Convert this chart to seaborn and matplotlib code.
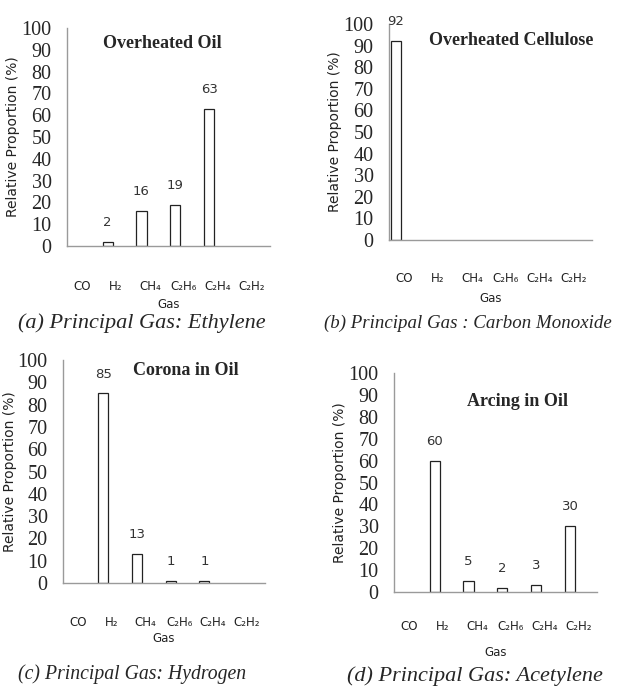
import matplotlib
matplotlib.use("Agg")
import matplotlib.pyplot as plt
import seaborn as sns
import pandas as pd

# Relative proportion (%) of each fault gas for four fault types
gases = ["CO", "H₂", "CH₄", "C₂H₆", "C₂H₄", "C₂H₂"]
overheated_oil = [0, 2, 16, 19, 63, 0]
overheated_cellulose = [92, 0, 0, 0, 0, 0]
corona_in_oil = [0, 85, 13, 1, 1, 0]
arcing_in_oil = [0, 60, 5, 2, 3, 30]

titles = ["Overheated Oil", "Overheated Cellulose", "Corona in Oil", "Arcing in Oil"]
captions = ["(a) Principal Gas: Ethylene", "(b) Principal Gas : Carbon Monoxide",
            "(c) Principal Gas: Hydrogen", "(d) Principal Gas: Acetylene"]
series = [overheated_oil, overheated_cellulose, corona_in_oil, arcing_in_oil]

sns.set_theme(style="white")
plt.rcParams["font.family"] = ["DejaVu Sans"]

W, H = 618, 686
fig = plt.figure(figsize=(W / 100, H / 100), dpi=100)

# axes boxes in pixels: left, baseline y, width, height
boxes = [(67, 246, 203, 218), (389, 240, 203, 216), (63, 583, 202, 223), (394, 592, 203, 219)]
title_pos = [(0.47, 0.93), (0.60, 0.925), (0.61, 0.955), (0.61, 0.868)]
caption_pos = [(142, 323), (468, 323), (132, 674), (475, 676)]
caption_size = [16, 13.6, 14.2, 16]
label_drop = [40, 38, 39, 35]
gas_drop = [59, 59, 55, 61]

for k, (vals, title, cap) in enumerate(zip(series, titles, captions)):
    left, base, w, h = boxes[k]
    ax = fig.add_axes([left / W, (H - base) / H, w / W, h / H])
    df = pd.DataFrame({"gas": gases, "value": vals})
    sns.barplot(data=df, x="gas", y="value", ax=ax, width=0.3, color="white",
                edgecolor="#222222", linewidth=0.9, saturation=1)
    # empty categories get no outline on the baseline
    for p in ax.patches:
        if p.get_height() == 0:
            p.set_visible(False)
    ax.set_xlim(-0.2, 5.8)
    ax.set_ylim(0, 100)
    ax.set_yticks(range(0, 101, 10))
    ax.set_yticklabels([str(v) for v in range(0, 101, 10)],
                       fontfamily="Liberation Serif", fontsize=14.5)
    ax.tick_params(axis="y", length=0, pad=11)
    ax.set_xticks([])
    ax.set_xlabel("")
    ax.set_ylabel("Relative Proportion (%)", fontsize=10, color="#222222")
    ax.yaxis.set_label_coords(-0.23, 0.5)
    for s in ["top", "right"]:
        ax.spines[s].set_visible(False)
    for s in ["left", "bottom"]:
        ax.spines[s].set_color("#9a9a9a")
        ax.spines[s].set_linewidth(1.0)

    # value labels above non-zero bars
    for i, v in enumerate(vals):
        if v > 0:
            ax.annotate(str(v), (i, v), xytext=(0, 14), textcoords="offset points",
                        ha="center", va="center", fontsize=9.5, color="#333333")

    # gas names below the baseline
    for i, lab in enumerate(gases):
        ax.annotate(lab, (i + 0.25, 0), xycoords=("data", "data"),
                    xytext=(0, -label_drop[k] * 0.72), textcoords="offset points",
                    ha="center", va="center", fontsize=8.5, color="#222222")
    ax.annotate("Gas", (0.5, 0), xycoords="axes fraction",
                xytext=(0, -gas_drop[k] * 0.72), textcoords="offset points",
                ha="center", va="center", fontsize=8.5, color="#222222")

    tx, ty = title_pos[k]
    ax.text(tx, ty, title, transform=ax.transAxes, ha="center", va="center",
            fontfamily="Liberation Serif", fontweight="bold", fontsize=13)

    cx, cy = caption_pos[k]
    fig.text(cx / W, 1 - cy / H, cap, ha="center", va="center",
             fontfamily="Liberation Serif", fontstyle="italic", fontsize=caption_size[k])

fig.savefig("out.png", dpi=100, facecolor="white")
